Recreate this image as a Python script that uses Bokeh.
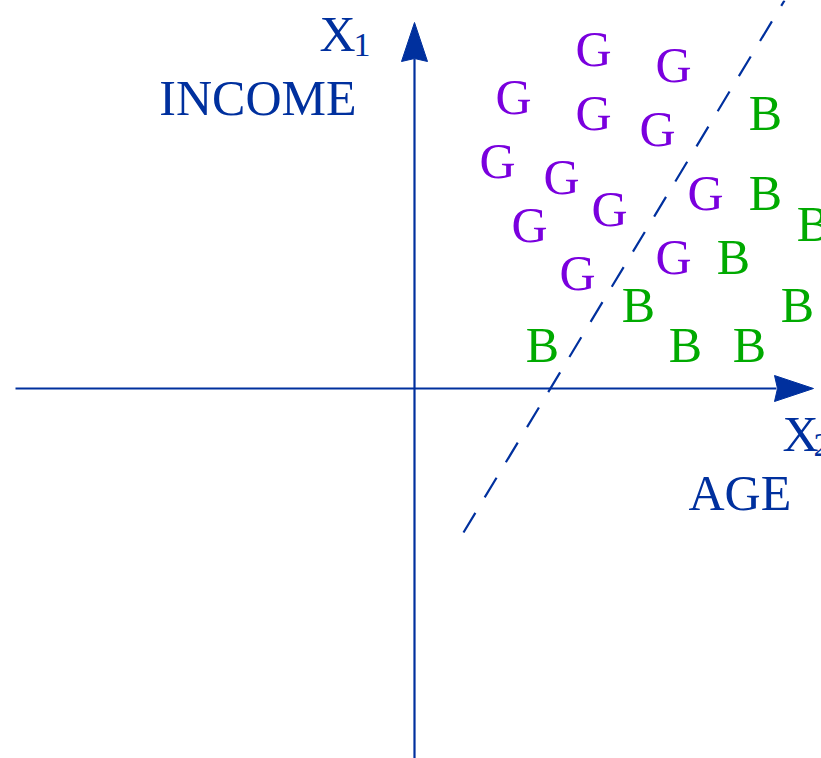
from bokeh.plotting import figure
from bokeh.models import Range1d, Label, ColumnDataSource
from bokeh.core.properties import value
from bokeh.embed import file_html
from bokeh.resources import INLINE

# Data: positions of class letters (units = px relative to axis origin)
g_x = [179, 259, 99, 179, 243, 83, 147, 195, 291, 115, 259, 163]
g_y = [336, 320, 288, 272, 256, 224, 208, 176, 192, 160, 128, 112]
b_x = [351, 351, 399, 319, 224, 383, 128, 271, 335]
b_y = [272, 192, 161, 128, 80, 80, 40, 40, 40]

# Decision boundary (dashed line) end points
boundary_x = [49, 370]
boundary_y = [-144, 388]

BLUE = "#00309E"
PURPLE = "#7A00DE"
GREEN = "#00AA00"
FONT = "Liberation Serif"
BASE_FIX = 20  # renderer places alphabetic baseline this many px low

p = figure(width=821, height=758, output_backend="svg", toolbar_location=None,
           x_range=Range1d(-414, 407), y_range=Range1d(-370, 388),
           min_border=0, outline_line_color=None)
p.axis.visible = False
p.grid.visible = False
p.background_fill_color = "white"

# Axes with arrowheads
LW = 2.2
p.line([-399, 362], [0, 0], line_color=BLUE, line_width=LW)
p.line([0, 0], [-372, 330], line_color=BLUE, line_width=LW)
head_len, head_half, notch = 39, 13, 3
tx, ty = 399, 366
p.patch([tx, tx - head_len, tx - head_len + notch, tx - head_len],
        [0, head_half, 0, -head_half],
        fill_color=BLUE, line_color=BLUE, line_width=1)
p.patch([0, head_half, 0, -head_half],
        [ty, ty - head_len, ty - head_len + notch, ty - head_len],
        fill_color=BLUE, line_color=BLUE, line_width=1)

# Dashed boundary
p.line(boundary_x, boundary_y, line_color=BLUE, line_width=LW, line_dash="23 18")

# Letters
gsrc = ColumnDataSource(dict(x=g_x, y=g_y, t=["G"] * len(g_x)))
bsrc = ColumnDataSource(dict(x=b_x, y=b_y, t=["B"] * len(b_x)))
for src, col in ((gsrc, PURPLE), (bsrc, GREEN)):
    p.text(x="x", y="y", text="t", source=src, text_color=col,
           text_font=value(FONT), text_font_size="50px",
           text_align="center", text_baseline="alphabetic", y_offset=-4)

# Axis labels
def lab(x, y, t, size="50px", align="left"):
    p.add_layout(Label(x=x, y=y + BASE_FIX, text=t, text_font=FONT, text_font_size=size,
                       text_color=BLUE, text_align=align, text_baseline="alphabetic"))

lab(-95, 335, "X")
lab(-61, 324, "1", size="34px")
lab(-58, 271, "INCOME", align="right")
lab(368, -65, "X")
lab(399, -76, "2", size="34px")
lab(274, -124, "AGE")

open("out.html", "w").write(file_html(p, INLINE))
